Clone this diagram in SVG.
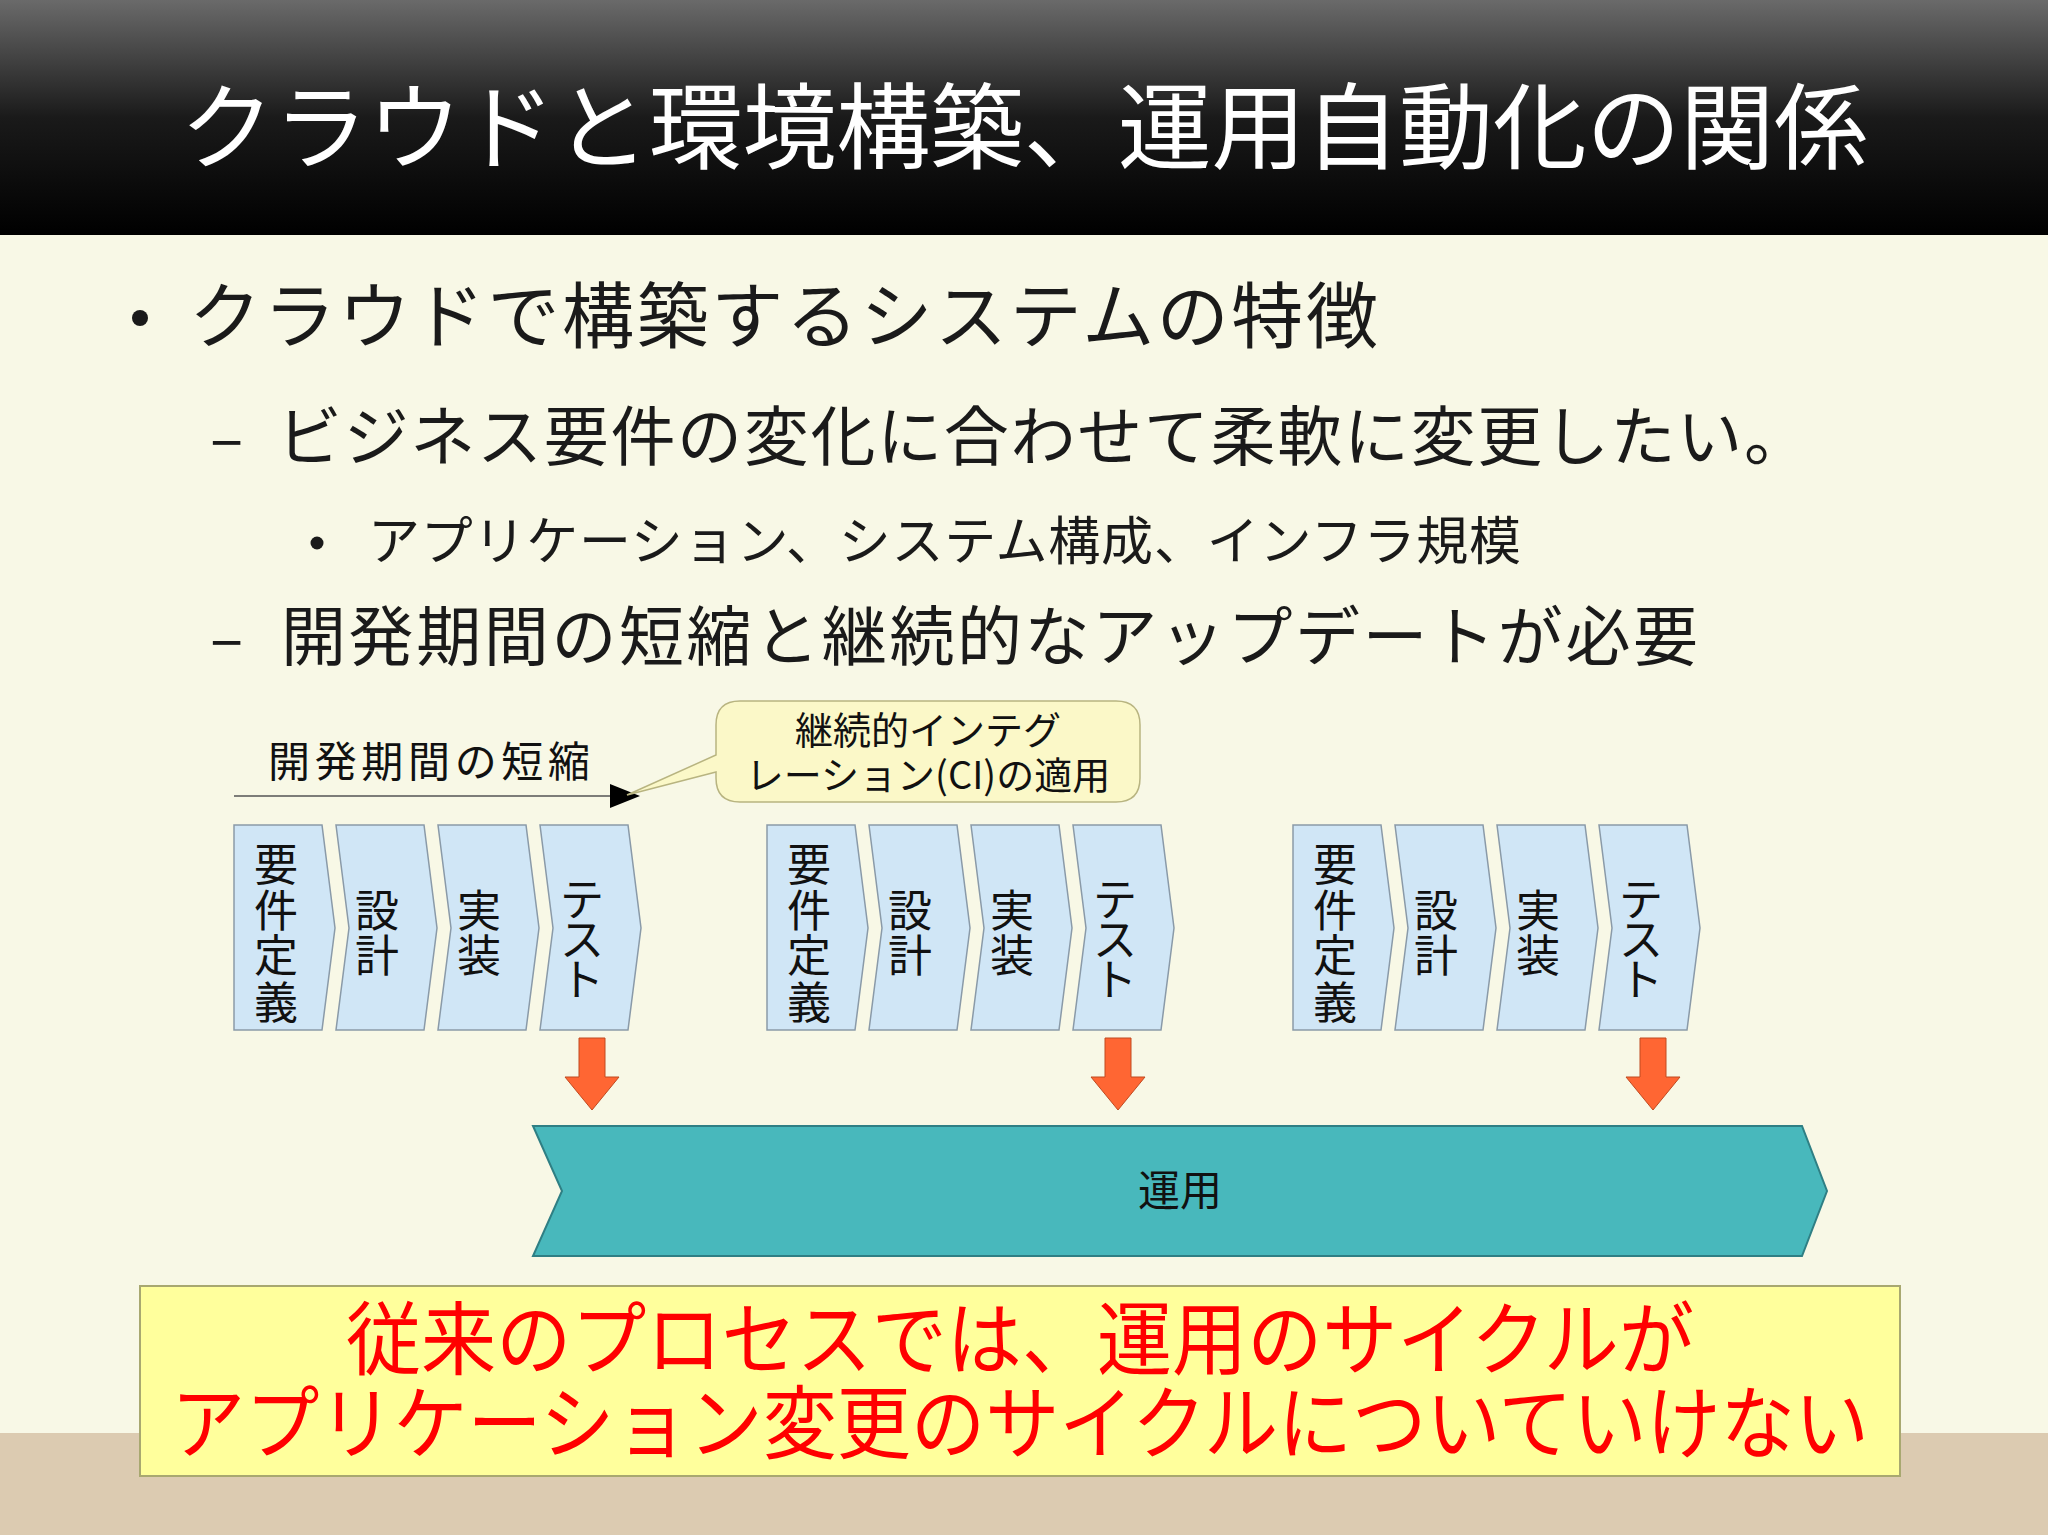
<svg xmlns="http://www.w3.org/2000/svg" width="2048" height="1535" viewBox="0 0 2048 1535">
<defs>
<linearGradient id="hdr" x1="0" y1="0" x2="0" y2="1"><stop offset="0" stop-color="#6a6a6a"/><stop offset="0.5" stop-color="#1a1a1a"/><stop offset="1" stop-color="#000"/></linearGradient>
<style>
text{font-family:"Noto Sans CJK JP","Noto Sans",sans-serif}
.b{fill:#1a1a1a}
.ch{fill:#d0e6f6;stroke:#8a9aa8;stroke-width:1.5}
.ct{font-size:44px;fill:#111;text-anchor:middle;dominant-baseline:central}
.ra{fill:#ff6633;stroke:#c04a20;stroke-width:1}
</style>
<g id="chev">
<polygon class="ch" points="0,0 88,0 101,103 88,205 0,205"/>
<polygon class="ch" points="102,0 190,0 203,103 190,205 102,205 115,103"/>
<polygon class="ch" points="204,0 292,0 305,103 292,205 204,205 217,103"/>
<polygon class="ch" points="306,0 394,0 407,103 394,205 306,205 319,103"/>
<text class="ct" x="42" y="37">要</text><text class="ct" x="42" y="83">件</text><text class="ct" x="42" y="128">定</text><text class="ct" x="42" y="175">義</text>
<text class="ct" x="143" y="83">設</text><text class="ct" x="143" y="128">計</text>
<text class="ct" x="245" y="83">実</text><text class="ct" x="245" y="128">装</text>
<text class="ct" x="348" y="72">テ</text><text class="ct" x="348" y="112">ス</text><text class="ct" x="348" y="152">ト</text>
</g>
<polygon id="arr" class="ra" points="-13,0 13,0 13,39 27,39 0,72 -27,39 -13,39"/>
</defs>
<rect width="2048" height="1535" fill="#f8f8e6"/>
<rect y="1433" width="2048" height="102" fill="#dccbb1"/>
<rect width="2048" height="235" fill="url(#hdr)"/>
<text x="1024" y="162" font-size="94" fill="#fff" text-anchor="middle" textLength="1688">クラウドと環境構築、運用自動化の関係</text>
<g id="bullets" class="b">
<circle cx="140" cy="318" r="8" fill="#1a1a1a"/>
<text x="189" y="342" font-size="72" textLength="1189">クラウドで構築するシステムの特徴</text>
<text x="210" y="460" font-size="62">–</text>
<text x="277" y="460" font-size="65" textLength="1532">ビジネス要件の変化に合わせて柔軟に変更したい。</text>
<circle cx="317" cy="543" r="6.5" fill="#1a1a1a"/>
<text x="368" y="560" font-size="52" textLength="1153">アプリケーション、システム構成、インフラ規模</text>
<text x="210" y="660" font-size="62">–</text>
<text x="281" y="660" font-size="65" textLength="1417">開発期間の短縮と継続的なアップデートが必要</text>
</g>
<g id="timeline">
<text x="268" y="777" font-size="42" fill="#111" textLength="322">開発期間の短縮</text>
<line x1="234" y1="796" x2="612" y2="796" stroke="#555" stroke-width="1.5"/>
<polygon points="610,784 640,796 610,808" fill="#000"/>
</g>
<g id="callout">
<path d="M740,701 H1116 Q1140,701 1140,725 V778 Q1140,802 1116,802 H740 Q716,802 716,778 V772 L627,795 L716,755 V725 Q716,701 740,701 Z" fill="#fbf8c8" stroke="#b8b480" stroke-width="1.5"/>
<text x="928" y="744" font-size="38" fill="#111" text-anchor="middle">継続的インテグ</text>
<text x="928" y="789" font-size="38" fill="#111" text-anchor="middle">レーション(CI)の適用</text>
</g>
<g id="cycle1"><use href="#chev" x="234" y="825"/></g>
<g id="cycle2"><use href="#chev" x="767" y="825"/></g>
<g id="cycle3"><use href="#chev" x="1293" y="825"/></g>
<g id="connectors">
<use href="#arr" x="592" y="1038"/>
<use href="#arr" x="1118" y="1038"/>
<use href="#arr" x="1653" y="1038"/>
</g>
<g id="ops">
<polygon points="533,1126 1802,1126 1827,1191 1802,1256 533,1256 562,1191" fill="#48b8bc" stroke="#2f7f84" stroke-width="2"/>
<text x="1180" y="1206" font-size="42" fill="#111" text-anchor="middle">運用</text>
</g>
<g id="note">
<rect x="140" y="1286" width="1760" height="190" fill="#ffff9c" stroke="#a8a870" stroke-width="2"/>
<text x="1020" y="1368" font-size="80" fill="#ff0000" text-anchor="middle" textLength="1348" lengthAdjust="spacingAndGlyphs">従来のプロセスでは、運用のサイクルが</text>
<text x="1020" y="1452" font-size="80" fill="#ff0000" text-anchor="middle" textLength="1698" lengthAdjust="spacingAndGlyphs">アプリケーション変更のサイクルについていけない</text>
</g>
</svg>
